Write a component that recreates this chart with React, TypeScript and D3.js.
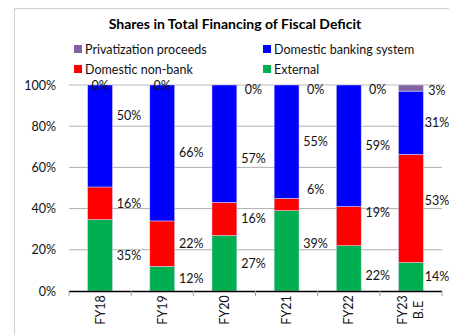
import React from "react";
import * as d3 from "d3";

const categories = ["FY18", "FY19", "FY20", "FY21", "FY22", "FY23 B.E"];
const seriesNames = ["External", "Domestic non-bank", "Domestic banking system", "Privatization proceeds"];
const external = [35, 12, 27, 39, 22, 14];
const domesticNonBank = [16, 22, 16, 6, 19, 53];
const domesticBanking = [50, 66, 57, 55, 59, 31];
const privatization = [0, 0, 0, 0, 0, 3];
const yTicks = [0, 20, 40, 60, 80, 100];

const COLORS: Record<string, string> = {
  "External": "#00b050",
  "Domestic non-bank": "#ff0000",
  "Domestic banking system": "#0000ff",
  "Privatization proceeds": "#8064a2",
};

// label fine-tuning (px), keyed "category|series"
const LABEL_NUDGE: Record<string, number> = {
  "FY18|Domestic banking system": -20,
  "FY20|Domestic banking system": 15,
  "FY21|Domestic non-bank": -15,
  "FY21|External": -7,
  "FY22|Domestic non-bank": -14,
  "FY22|External": 7,
  "FY23 B.E|Domestic non-bank": -8,
  "FY23 B.E|Privatization proceeds": 2,
};
const LABEL_ON_TOP = new Set(["FY18|Privatization proceeds", "FY19|Privatization proceeds"]);

const W = 449, H = 335;
const M = { left: 69, right: 442, top: 85, bottom: 291 };
const FONT = "Lato, 'Open Sans', sans-serif";

export default function App() {
  const valuesBySeries = [external, domesticNonBank, domesticBanking, privatization];
  const rows = categories.map((c, i) => {
    const r: any = { cat: c };
    seriesNames.forEach((s, k) => (r[s] = valuesBySeries[k][i]));
    return r;
  });
  const stack = d3.stack<any>().keys(seriesNames).offset(d3.stackOffsetExpand);
  const stacked = stack(rows);

  const x = d3.scaleBand().domain(categories).range([M.left, M.right]).padding(0);
  const y = d3.scaleLinear().domain([0, 1]).range([M.bottom, M.top]);
  const yPct = d3.scaleLinear().domain([0, 100]).range([M.bottom, M.top]);
  const bw = x.bandwidth() * 0.4;

  const legend = [
    { name: "Privatization proceeds", x: 74, y: 49 },
    { name: "Domestic banking system", x: 263, y: 49 },
    { name: "Domestic non-bank", x: 74, y: 69 },
    { name: "External", x: 263, y: 69 },
  ];

  const boundaries = categories.map((c) => x(c)!).concat([M.right]);

  return (
    <svg width={W} height={H} style={{ position: "absolute", left: 0, top: 0, background: "#fff" }} fontFamily={FONT}>
      <rect x={14.5} y={8.5} width={450} height={340} fill="#fff" stroke="#d0d0d0" />
      <text x={235} y={29} textAnchor="middle" fontWeight="bold" fontSize={14} fill="#000">
        Shares in Total Financing of Fiscal Deficit
      </text>
      {legend.map((l) => (
        <g key={l.name}>
          <rect x={l.x} y={l.y - 4} width={8} height={8} fill={COLORS[l.name]} />
          <text x={l.x + 11} y={l.y} dominantBaseline="central" fontSize={12.5} fill="#111">
            {l.name}
          </text>
        </g>
      ))}
      {yTicks.map((t) => (
        <g key={t}>
          {t > 0 && (
            <line x1={M.left} x2={M.right} y1={yPct(t)} y2={yPct(t)} stroke={t === 100 ? "#d0d0d0" : "#b0b0b0"} strokeWidth={t === 100 ? 1.5 : 1} />
          )}
          <text x={56} y={yPct(t)} textAnchor="end" dominantBaseline="central" fontSize={12.5} fill="#111">
            {t}%
          </text>
        </g>
      ))}
      {stacked.map((layer) => (
        <g key={layer.key}>
          {layer.map((d, i) => {
            const cx = x(categories[i])! + x.bandwidth() / 2;
            return (
              <rect
                key={i}
                x={cx - bw / 2}
                y={y(d[1])}
                width={bw}
                height={Math.max(0, y(d[0]) - y(d[1]))}
                fill={COLORS[layer.key]}
                stroke="#d8d8f0"
                strokeWidth={0.5}
              />
            );
          })}
        </g>
      ))}
      <line x1={M.left} x2={M.right} y1={M.bottom + 0.5} y2={M.bottom + 0.5} stroke="#000" strokeWidth={1.5} />
      {boundaries.map((b, i) => (
        <line key={i} x1={b} x2={b} y1={M.bottom} y2={M.bottom + 5} stroke="#a0a0a0" />
      ))}
      {stacked.map((layer) =>
        layer.map((d, i) => {
          const cat = categories[i];
          const key = cat + "|" + layer.key;
          const cx = x(cat)! + x.bandwidth() / 2;
          const val = valuesBySeries[seriesNames.indexOf(layer.key)][i];
          let lx = cx + 29;
          let ly = (y(d[0]) + y(d[1])) / 2 + (LABEL_NUDGE[key] || 0);
          if (layer.key === "Privatization proceeds" && val === 0) ly = M.top + 4;
          if (LABEL_ON_TOP.has(key)) {
            lx = cx;
            ly = M.top;
          }
          if (i === categories.length - 1) lx = cx + 26;
          return (
            <text key={key} x={lx} y={ly} textAnchor="middle" dominantBaseline="central" fontSize={12.5} fill="#111">
              {val}%
            </text>
          );
        })
      )}
      {categories.map((c) => {
        const cx = x(c)! + x.bandwidth() / 2;
        const parts = c.split(" ");
        const off = -((parts.length - 1) * 16) / 2;
        return (
          <text key={c} transform={`translate(${cx},310) rotate(-90)`} textAnchor="middle" fontSize={12.5} fill="#111">
            {parts.map((p, k) => (
              <tspan key={k} x={0} y={off + k * 16} dominantBaseline="central">
                {p}
              </tspan>
            ))}
          </text>
        );
      })}
    </svg>
  );
}
